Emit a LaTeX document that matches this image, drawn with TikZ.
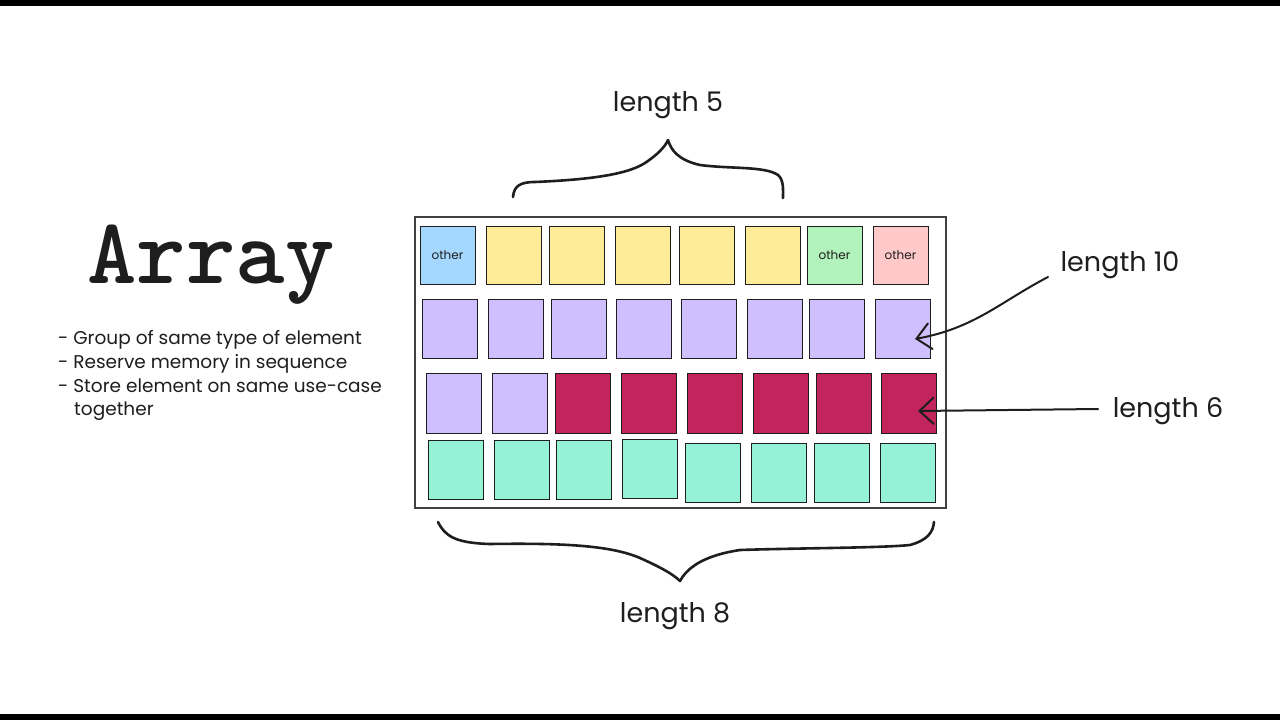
\documentclass[tikz,border=0pt]{standalone}
\usepackage{fontspec}
\setmainfont{Poppins}
\usetikzlibrary{arrows.meta}
\definecolor{ink}{HTML}{1E1E1E}
\definecolor{cblue}{HTML}{A5D8FF}
\definecolor{cyellow}{HTML}{FFEC99}
\definecolor{cgreen}{HTML}{B2F2BB}
\definecolor{cpink}{HTML}{FFC9C9}
\definecolor{cviolet}{HTML}{D0BFFF}
\definecolor{ccrimson}{HTML}{C2255C}
\definecolor{cteal}{HTML}{96F2D7}
\begin{document}
\begin{tikzpicture}[x=1pt,y=-1pt,
  cell/.style={draw=ink, line width=0.9pt, inner sep=0pt, minimum width=55pt, minimum height=59pt,
    font=\fontsize{12}{14}\selectfont, text=ink},
  lbl/.style={font=\fontsize{27}{32}\selectfont, text=ink, inner sep=0pt, anchor=base},
  bullet/.style={font=\fontsize{18.5}{22}\selectfont, text=ink, inner sep=0pt, anchor=base west},
  brace/.style={draw=ink, line width=2.6pt, line cap=round, line join=round},
  pointer/.style={draw=ink, line width=2pt, line cap=round,
    -{Straight Barb[length=14pt,width=26pt,line cap=round]}},
]
\useasboundingbox (0,0) rectangle (1280,720);
\fill[white] (0,0) rectangle (1280,720);
\fill[black] (0,0) rectangle (1280,6);
\fill[black] (0,714) rectangle (1280,720);

% title and bullets
\node[font=\ttfamily\bfseries\fontsize{94}{100}\selectfont, text=ink, anchor=base, inner sep=0pt] (title) at (211,283) {Array};
\node[bullet] (b1) at (58,344) {- Group of same type of element};
\node[bullet] (b2) at (58,368) {- Reserve memory in sequence};
\node[bullet] (b3) at (58,392) {- Store element on same use-case};
\node[bullet] (b4) at (74,415) {together};

% outer frame
\node[draw=ink!85, line width=1.2pt, inner sep=0pt, minimum width=531pt, minimum height=291pt] (frame) at (680.5,362.5) {};

% row 1
\foreach \x/\c/\t [count=\i] in {420/cblue/other,486/cyellow/,549/cyellow/,615/cyellow/,679/cyellow/,745/cyellow/,807/cgreen/other,873/cpink/other}
  \node[cell, fill=\c, minimum height=58pt] (r1-\i) at (\x+27.5,255) {\t};
% row 2
\foreach \x [count=\i] in {422,488,551,616,681,747,809,875}
  \node[cell, fill=cviolet] (r2-\i) at (\x+27.5,328.5) {};
% row 3
\foreach \x/\c [count=\i] in {426/cviolet,492/cviolet,555/ccrimson,621/ccrimson,687/ccrimson,753/ccrimson,816/ccrimson,881/ccrimson}
  \node[cell, fill=\c, minimum height=60pt] (r3-\i) at (\x+27.5,403) {};
% row 4
\foreach \x/\y [count=\i] in {428/470,494/470,556/470,622/469,685/472.5,751/472.5,814/472.5,880/472.5}
  \node[cell, fill=cteal] (r4-\i) at (\x+27.5,\y) {};

% labels
\node[lbl] (len5) at (668,111) {length 5};
\node[lbl] (len10) at (1120,271) {length 10};
\node[lbl] (len6) at (1168,417) {length 6};
\node[lbl] (len8) at (675,622) {length 8};

% braces
\draw[brace] (513,197) .. controls (514,186) and (520,182) .. (535,182)
  .. controls (580,180) and (625,176) .. (645,163)
  .. controls (657,155) and (665,147) .. (668,140)
  .. controls (671,150) and (678,160) .. (700,165)
  .. controls (730,169) and (765,166) .. (778,175)
  .. controls (784,180) and (783,190) .. (783,198);
\draw[brace] (438,522) .. controls (445,536) and (455,543) .. (490,544)
  .. controls (560,543) and (610,545) .. (640,558)
  .. controls (660,567) and (673,574) .. (680,581)
  .. controls (686,570) and (700,556) .. (740,550)
  .. controls (800,548) and (880,548) .. (910,545)
  .. controls (928,540) and (933,532) .. (934,522);

% pointers
\coordinate (p10) at (1048,277);
\coordinate (t10) at (915,339);
\draw[pointer] (p10) .. controls (1000,302) and (975,328) .. (t10);
\coordinate (p6) at (1098,409);
\coordinate (t6) at (918,411);
\draw[pointer] (p6) -- (t6);
\end{tikzpicture}
\end{document}
